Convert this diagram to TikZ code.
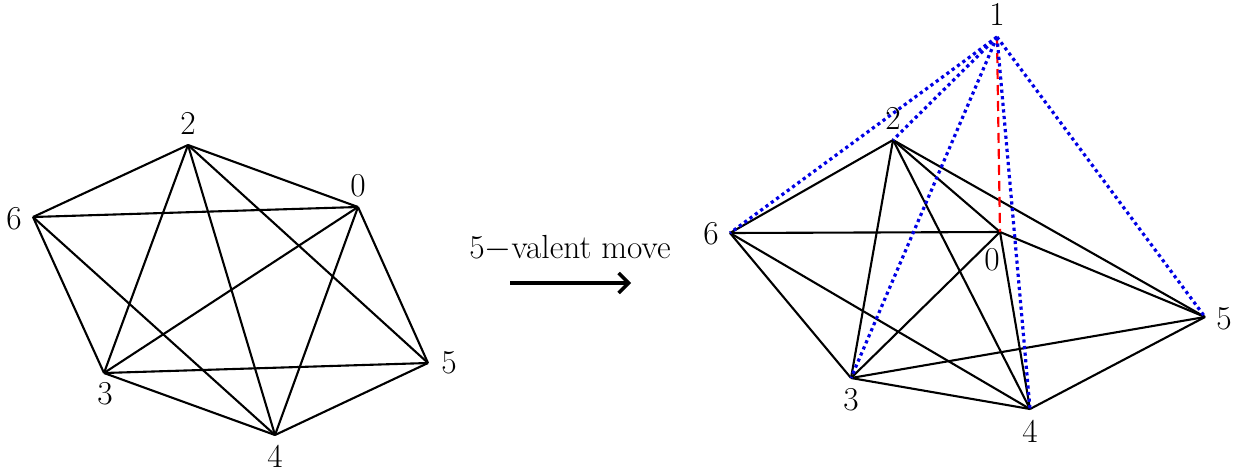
\documentclass[tikz,border=0pt]{standalone}
\usetikzlibrary{arrows.meta}
\tikzset{
  edgeline/.style={line width=1.05pt,black},
  blueline/.style={line width=1.6pt,blue!90!black,dash pattern=on 1.6pt off 1.7pt},
  redline/.style={line width=1.1pt,red,dash pattern=on 5pt off 3pt},
  movearrow/.style={line width=2.1pt,-{Straight Barb[length=5pt,width=10pt,line width=1.7pt]}},
  vlabel/.style={inner sep=0pt,font=\fontsize{16.7}{20}\selectfont}
}
\begin{document}
\begin{tikzpicture}[x=0.5pt,y=-0.5pt]
\useasboundingbox (0,0) rectangle (1241,472);
% left graph
\coordinate (a2) at (188,145);
\coordinate (a0) at (358,207);
\coordinate (a6) at (33,217);
\coordinate (a3) at (104,373);
\coordinate (a4) at (275,435);
\coordinate (a5) at (428,363);
\foreach \u/\v in {a2/a0,a2/a6,a2/a3,a2/a4,a2/a5,a0/a6,a0/a3,a0/a4,a0/a5,a6/a3,a6/a4,a3/a4,a3/a5,a4/a5}
  \draw[edgeline] (\u) -- (\v);
\node[vlabel] (la2) at (188,123) {2};
\node[vlabel] (la0) at (358,186) {0};
\node[vlabel] (la6) at (14,219) {6};
\node[vlabel] (la3) at (105,394) {3};
\node[vlabel] (la4) at (275,456) {4};
\node[vlabel] (la5) at (449,363) {5};
% move
\node[vlabel] (mv) at (570,248) {5$-$valent move};
\coordinate (ms) at (510,283);
\coordinate (me) at (631,283);
\draw[movearrow] (ms) -- (me);
% right graph
\coordinate (b1) at (997,37);
\coordinate (b2) at (893,140);
\coordinate (b6) at (730,233);
\coordinate (b0) at (1000,232);
\coordinate (b3) at (851,378);
\coordinate (b4) at (1030,409);
\coordinate (b5) at (1205,317);
\foreach \u/\v in {b2/b6,b2/b3,b2/b4,b2/b0,b2/b5,b6/b0,b6/b3,b6/b4,b0/b3,b0/b4,b0/b5,b3/b4,b3/b5,b4/b5}
  \draw[edgeline] (\u) -- (\v);
\draw[redline] (b1) -- (b0);
\foreach \v in {b6,b2,b3,b4,b5}
  \draw[blueline] (b1) -- (\v);
\node[vlabel] (lb1) at (997,14) {1};
\node[vlabel] (lb2) at (893,118) {2};
\node[vlabel] (lb6) at (711,234) {6};
\node[vlabel] (lb0) at (992,260) {0};
\node[vlabel] (lb3) at (851,400) {3};
\node[vlabel] (lb4) at (1030,431) {4};
\node[vlabel] (lb5) at (1224,319) {5};
\end{tikzpicture}
\end{document}
